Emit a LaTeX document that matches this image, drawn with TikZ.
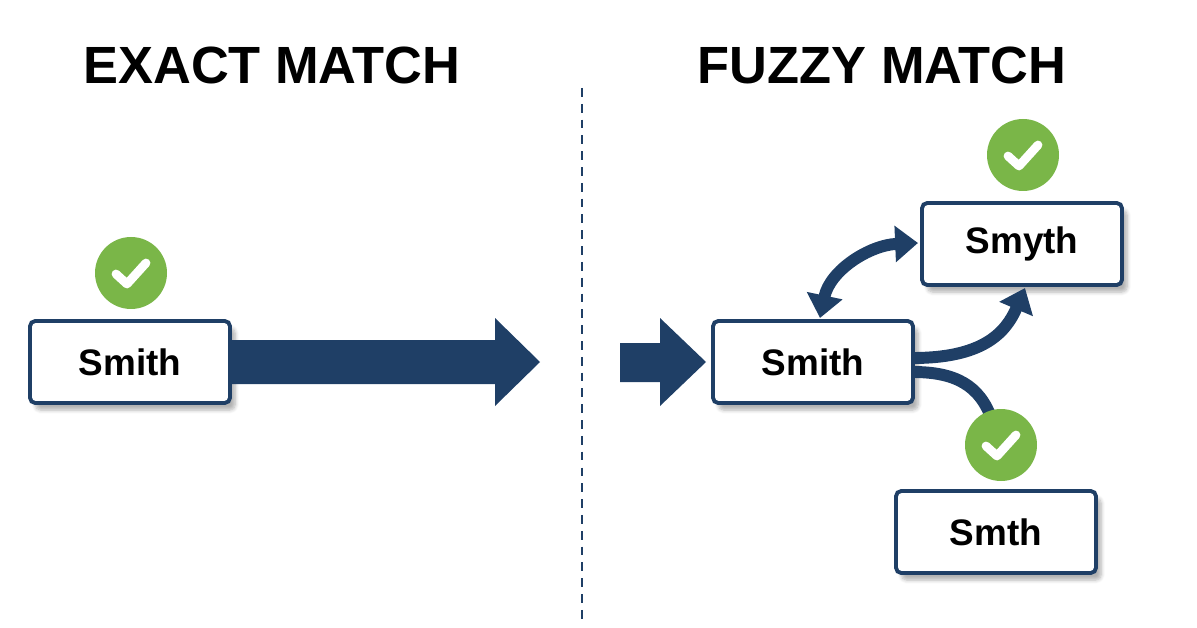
\documentclass[tikz,border=0pt]{standalone}
\usepackage{fontspec}
\setmainfont{Liberation Sans}
\usetikzlibrary{arrows.meta,shadows.blur}
\definecolor{navy}{HTML}{1F3F66}
\definecolor{okgreen}{HTML}{7AB648}
\begin{document}
\begin{tikzpicture}[x=0.02cm,y=-0.02cm,
  box/.style={draw=navy,line width=2.2pt,rounded corners=3pt,fill=white,minimum width=200*0.02cm,minimum height=82*0.02cm,font=\bfseries\fontsize{21}{24}\selectfont,blur shadow={shadow xshift=3pt,shadow yshift=-4pt,shadow blur steps=6,shadow opacity=30}},
  title/.style={font=\bfseries\fontsize{29.8}{34}\selectfont},
  chk/.style={circle,fill=okgreen,minimum size=72*0.02cm,inner sep=0pt},
  tick/.style={white,line width=5pt,line cap=round,line join=round},
  flow/.style={navy,line width=6.8pt,-{Triangle[width=20pt,length=13pt]}},
  bigarrow/.style={fill=navy}]
\useasboundingbox (0,0) rectangle (1197,628);
\node[title] (t1) at (272,65) {EXACT MATCH};
\node[title] (t2) at (882,65) {FUZZY MATCH};
\coordinate (d1) at (582,88); \coordinate (d2) at (582,622);
\draw[navy,line width=1.3pt,dash pattern=on 5pt off 4pt] (d1) -- (d2);
% left
\node[box] (s1) at (130,362) {Smith};
\node[chk] (c1) at (131,273) {};
\draw[tick] ($(c1)+(-15,1)$) -- ($(c1)+(-4,11)$) -- ($(c1)+(15,-10)$);
\fill[bigarrow] (232,340) -- (495,340) -- (495,318) -- (540,362) -- (495,406) -- (495,384) -- (232,384) -- cycle;
% right
\fill[bigarrow] (620,343) -- (660,343) -- (660,318) -- (706,362) -- (660,406) -- (660,382) -- (620,382) -- cycle;
\node[box] (s2) at (813,362) {Smith};
\node[box] (s3) at (1022,244) {Smyth};
\node[box] (s4) at (996,532) {Smth};
\node[chk] (c3) at (1023,155) {};
\draw[tick] ($(c3)+(-15,1)$) -- ($(c3)+(-4,11)$) -- ($(c3)+(15,-10)$);
\draw[flow,{Triangle[width=20pt,length=13pt]}-{Triangle[width=20pt,length=13pt]}] (820,318) .. controls (830,270) and (870,245) .. (918,243);
\draw[flow] (913,358) .. controls (980,358) and (1005,335) .. (1025,288);
\draw[navy,line width=6.8pt] (913,372) .. controls (955,372) and (980,385) .. (992,420);
\node[chk] (c4) at (1001,445) {};
\draw[tick] ($(c4)+(-15,1)$) -- ($(c4)+(-4,11)$) -- ($(c4)+(15,-10)$);
\end{tikzpicture}
\end{document}
